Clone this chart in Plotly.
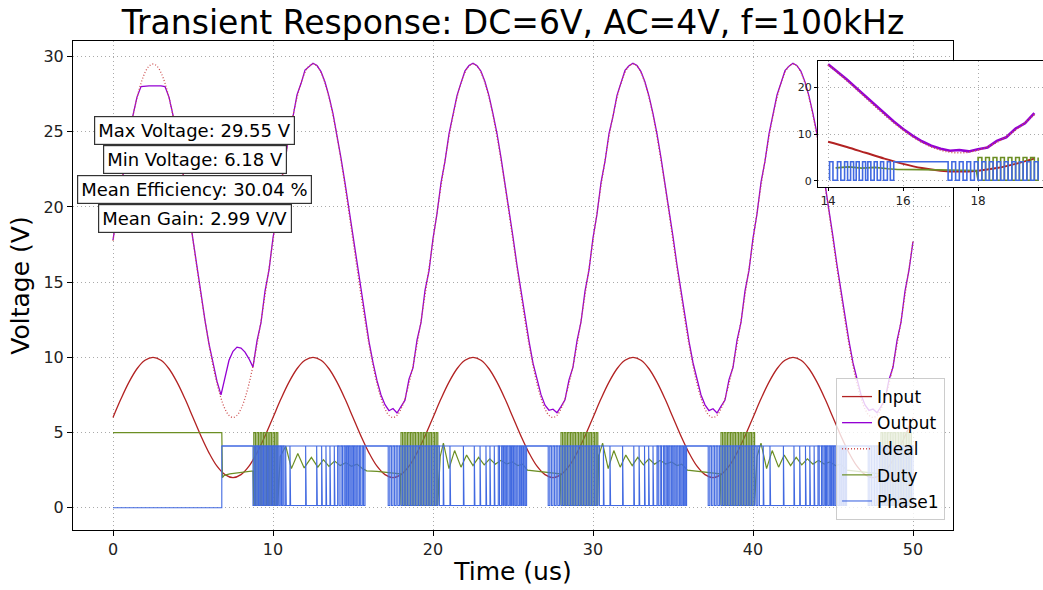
import plotly.graph_objects as go

# ---------------- data ----------------
input_t = [round(0.5 * i, 2) for i in range(101)]
input_v = [6.00, 7.24, 8.35, 9.24, 9.80, 10.00, 9.80, 9.24, 8.35, 7.24, 6.00, 4.76, 3.65, 2.76, 2.20, 2.00, 2.20, 2.76, 3.65, 4.76,
           6.00, 7.24, 8.35, 9.24, 9.80, 10.00, 9.80, 9.24, 8.35, 7.24, 6.00, 4.76, 3.65, 2.76, 2.20, 2.00, 2.20, 2.76, 3.65, 4.76,
           6.00, 7.24, 8.35, 9.24, 9.80, 10.00, 9.80, 9.24, 8.35, 7.24, 6.00, 4.76, 3.65, 2.76, 2.20, 2.00, 2.20, 2.76, 3.65, 4.76,
           6.00, 7.24, 8.35, 9.24, 9.80, 10.00, 9.80, 9.24, 8.35, 7.24, 6.00, 4.76, 3.65, 2.76, 2.20, 2.00, 2.20, 2.76, 3.65, 4.76,
           6.00, 7.24, 8.35, 9.24, 9.80, 10.00, 9.80, 9.24, 8.35, 7.24, 6.00, 4.76, 3.65, 2.76, 2.20, 2.00, 2.20, 2.76, 3.65, 4.76,
           6.00]

fine_t = [round(0.25 * i, 2) for i in range(201)]
ideal_v = [17.75, 19.59, 21.38, 23.08, 24.66, 26.06, 27.26, 28.22, 28.93, 29.36, 29.50, 29.36, 28.93, 28.22, 27.26, 26.06, 24.66, 23.08, 21.38, 19.59,
           17.75, 15.91, 14.12, 12.42, 10.84, 9.44, 8.24, 7.28, 6.57, 6.14, 6.00, 6.14, 6.57, 7.28, 8.24, 9.44, 10.84, 12.42, 14.12, 15.91,
           17.75, 19.59, 21.38, 23.08, 24.66, 26.06, 27.26, 28.22, 28.93, 29.36, 29.50, 29.36, 28.93, 28.22, 27.26, 26.06, 24.66, 23.08, 21.38, 19.59,
           17.75, 15.91, 14.12, 12.42, 10.84, 9.44, 8.24, 7.28, 6.57, 6.14, 6.00, 6.14, 6.57, 7.28, 8.24, 9.44, 10.84, 12.42, 14.12, 15.91,
           17.75, 19.59, 21.38, 23.08, 24.66, 26.06, 27.26, 28.22, 28.93, 29.36, 29.50, 29.36, 28.93, 28.22, 27.26, 26.06, 24.66, 23.08, 21.38, 19.59,
           17.75, 15.91, 14.12, 12.42, 10.84, 9.44, 8.24, 7.28, 6.57, 6.14, 6.00, 6.14, 6.57, 7.28, 8.24, 9.44, 10.84, 12.42, 14.12, 15.91,
           17.75, 19.59, 21.38, 23.08, 24.66, 26.06, 27.26, 28.22, 28.93, 29.36, 29.50, 29.36, 28.93, 28.22, 27.26, 26.06, 24.66, 23.08, 21.38, 19.59,
           17.75, 15.91, 14.12, 12.42, 10.84, 9.44, 8.24, 7.28, 6.57, 6.14, 6.00, 6.14, 6.57, 7.28, 8.24, 9.44, 10.84, 12.42, 14.12, 15.91,
           17.75, 19.59, 21.38, 23.08, 24.66, 26.06, 27.26, 28.22, 28.93, 29.36, 29.50, 29.36, 28.93, 28.22, 27.26, 26.06, 24.66, 23.08, 21.38, 19.59,
           17.75, 15.91, 14.12, 12.42, 10.84, 9.44, 8.24, 7.28, 6.57, 6.14, 6.00, 6.14, 6.57, 7.28, 8.24, 9.44, 10.84, 12.42, 14.12, 15.91,
           17.75]

output_v = [17.80, 19.60, 21.40, 23.10, 24.70, 26.10, 27.30, 28.00, 28.05, 28.05, 28.05, 28.05, 28.05, 28.00, 27.30, 26.10, 24.70, 23.10, 21.40, 19.60,
            17.80, 15.95, 14.15, 12.45, 10.90, 9.55, 8.40, 7.50, 8.75, 9.80, 10.40, 10.68, 10.62, 10.35, 9.90, 9.35, 11.10, 12.30, 14.40, 15.80,
            17.95, 19.50, 21.65, 23.00, 24.90, 26.00, 27.45, 28.20, 29.10, 29.35, 29.55, 29.40, 29.00, 28.30, 27.35, 26.20, 24.85, 23.25, 21.60, 19.80,
            18.00, 16.15, 14.35, 12.65, 11.05, 9.65, 8.45, 7.50, 6.85, 6.45, 6.60, 6.30, 6.75, 7.15, 8.55, 9.30, 11.15, 12.30, 14.45, 15.75,
            17.90, 19.55, 21.60, 23.05, 24.85, 26.05, 27.40, 28.25, 29.05, 29.40, 29.55, 29.38, 29.02, 28.32, 27.38, 26.18, 24.88, 23.28, 21.62, 19.82,
            18.00, 16.12, 14.38, 12.62, 11.08, 9.62, 8.48, 7.52, 6.82, 6.48, 6.55, 6.32, 6.72, 7.18, 8.50, 9.35, 11.10, 12.35, 14.40, 15.80,
            17.95, 19.52, 21.62, 23.02, 24.88, 26.02, 27.42, 28.22, 29.08, 29.38, 29.55, 29.40, 29.00, 28.30, 27.36, 26.20, 24.86, 23.26, 21.60, 19.80,
            18.02, 16.14, 14.36, 12.64, 11.06, 9.64, 8.46, 7.50, 6.84, 6.46, 6.58, 6.30, 6.74, 7.16, 8.52, 9.32, 11.12, 12.32, 14.42, 15.78,
            17.92, 19.54, 21.64, 23.04, 24.86, 26.04, 27.44, 28.24, 29.06, 29.36, 29.55, 29.39, 29.01, 28.31, 27.37, 26.19, 24.87, 23.27, 21.61, 19.81,
            18.01, 16.13, 14.37, 12.63, 11.07, 9.63, 8.47, 7.51, 6.83, 6.47, 6.56, 6.31, 6.73, 7.17, 8.51, 9.34, 11.11, 12.33, 14.41, 15.79,
            17.70]

# Duty: smooth part (time, value) plus switching bursts (pulse on/off times)
duty_base_t = [0.0, 6.80, 6.84, 6.95, 7.30, 7.80, 8.30, 8.75,
               10.45, 10.80, 11.15, 11.55, 11.95, 12.40, 12.80, 13.15, 13.50, 13.85, 14.20, 14.55, 14.90, 15.25, 15.60, 15.85, 16.50, 17.20, 17.60, 17.95,
               20.45, 20.65, 21.00, 21.35, 21.75, 22.10, 22.50, 22.85, 23.20, 23.55, 23.90, 24.25, 24.60, 24.95, 25.30, 25.60, 25.90, 26.50, 27.20, 27.60, 27.95,
               30.35, 30.60, 30.95, 31.30, 31.70, 32.05, 32.45, 32.80, 33.15, 33.50, 33.85, 34.20, 34.55, 34.90, 35.25, 35.55, 35.90, 36.50, 37.20, 37.60, 37.95,
               40.25, 40.50, 40.85, 41.20, 41.60, 41.95, 42.35, 42.70, 43.05, 43.40, 43.75, 44.10, 44.45, 44.80, 45.15, 45.50, 45.85, 46.50, 47.20, 47.60, 47.95]
duty_base_v = [5.0, 5.0, 2.0, 2.15, 2.25, 2.32, 2.38, 2.45,
               3.4, 4.1, 2.6, 3.6, 2.65, 3.35, 2.7, 3.2, 2.75, 3.1, 2.8, 3.0, 2.75, 2.9, 2.6, 2.45, 2.42, 2.35, 2.3, 2.25,
               3.4, 4.3, 2.6, 3.8, 2.7, 3.5, 2.8, 3.35, 2.85, 3.25, 2.9, 3.15, 2.9, 3.05, 2.8, 2.9, 2.5, 2.42, 2.35, 2.3, 2.25,
               3.4, 4.3, 2.6, 3.8, 2.7, 3.5, 2.8, 3.35, 2.85, 3.25, 2.9, 3.15, 2.9, 3.05, 2.8, 2.9, 2.5, 2.42, 2.35, 2.3, 2.25,
               3.4, 4.3, 2.6, 3.8, 2.7, 3.5, 2.8, 3.35, 2.85, 3.25, 2.9, 3.15, 2.9, 3.05, 2.8, 2.9, 2.5, 2.42, 2.35, 2.3, 2.25]
duty_on = [8.80, 9.00, 9.20, 9.40, 9.60, 9.80, 10.00, 10.20,
           18.00, 18.20, 18.40, 18.60, 18.80, 19.00, 19.20, 19.40, 19.60, 19.80, 20.00, 20.20,
           28.00, 28.20, 28.40, 28.60, 28.80, 29.00, 29.20, 29.40, 29.60, 29.80, 30.00, 30.20,
           38.00, 38.20, 38.40, 38.60, 38.80, 39.00, 39.20, 39.40, 39.60, 39.80, 40.00,
           48.00, 48.20, 48.40, 48.60, 48.80, 49.00, 49.20, 49.40, 49.60, 49.80]
duty_off = [8.90, 9.10, 9.30, 9.50, 9.70, 9.90, 10.10, 10.30,
            18.10, 18.30, 18.50, 18.70, 18.90, 19.10, 19.30, 19.50, 19.70, 19.90, 20.10, 20.30,
            28.10, 28.30, 28.50, 28.70, 28.90, 29.10, 29.30, 29.50, 29.70, 29.90, 30.10, 30.30,
            38.10, 38.30, 38.50, 38.70, 38.90, 39.10, 39.30, 39.50, 39.70, 39.90, 40.10,
            48.10, 48.30, 48.50, 48.70, 48.90, 49.10, 49.30, 49.50, 49.70, 49.90]
duty_high = 5.0
duty_low = 0.15

# Phase1: high pulses (on/off times), low before 6.8 us
phase1_on = [6.80,
             8.85, 9.01, 9.17, 9.33, 9.49, 9.65, 9.81, 9.97, 10.13, 10.29, 10.45, 10.61,
             10.79, 11.06, 12.04, 12.73, 13.04, 13.31, 13.56, 13.83,
             14.04, 14.25, 14.44, 14.60, 14.75, 14.92, 15.06, 15.23, 15.40, 15.58,
             15.75,
             17.30, 17.50, 17.70, 17.90, 18.10, 18.30, 18.50, 18.70, 18.90, 19.10, 19.30, 19.50, 19.70, 19.90, 20.10, 20.30,
             20.64, 21.06, 21.90, 22.58, 22.94, 23.31, 23.56, 23.83,
             24.08, 24.29, 24.44, 24.60, 24.77, 24.92, 25.06, 25.23, 25.40, 25.54, 25.69,
             25.85,
             27.30, 27.50, 27.70, 27.90, 28.10, 28.30, 28.50, 28.70, 28.90, 29.10, 29.30, 29.50, 29.70, 29.90, 30.10, 30.30,
             30.65, 31.06, 31.85, 32.55, 32.88, 33.22, 33.48, 33.75,
             34.00, 34.20, 34.40, 34.57, 34.73, 34.90, 35.06, 35.23, 35.40, 35.56, 35.71,
             35.85,
             37.30, 37.50, 37.70, 37.90, 38.10, 38.30, 38.50, 38.70, 38.90, 39.10, 39.30, 39.50, 39.70, 39.90, 40.10, 40.30,
             40.64, 41.06, 41.90, 42.56, 42.92, 43.28, 43.55, 43.82,
             44.06, 44.28, 44.45, 44.60, 44.77, 44.92, 45.06, 45.23, 45.40, 45.55, 45.70,
             45.85,
             47.30, 47.50, 47.70, 47.90, 48.10, 48.30, 48.50, 48.70, 48.90, 49.10, 49.30, 49.50, 49.70, 49.90]
phase1_off = [8.75,
              8.93, 9.09, 9.25, 9.41, 9.57, 9.73, 9.89, 10.05, 10.21, 10.37, 10.53, 10.69,
              10.83, 11.10, 12.08, 12.77, 13.08, 13.35, 13.60, 13.87,
              14.13, 14.34, 14.52, 14.68, 14.83, 15.00, 15.14, 15.31, 15.48, 15.66,
              17.20,
              17.40, 17.60, 17.80, 18.00, 18.20, 18.40, 18.60, 18.80, 19.00, 19.20, 19.40, 19.60, 19.80, 20.00, 20.20, 20.40,
              20.68, 21.10, 21.94, 22.62, 22.98, 23.35, 23.60, 23.87,
              24.16, 24.37, 24.52, 24.68, 24.85, 25.00, 25.14, 25.31, 25.48, 25.62, 25.77,
              27.20,
              27.40, 27.60, 27.80, 28.00, 28.20, 28.40, 28.60, 28.80, 29.00, 29.20, 29.40, 29.60, 29.80, 30.00, 30.20, 30.40,
              30.69, 31.10, 31.89, 32.59, 32.92, 33.26, 33.52, 33.79,
              34.08, 34.28, 34.48, 34.65, 34.81, 34.98, 35.14, 35.31, 35.48, 35.64, 35.79,
              37.20,
              37.40, 37.60, 37.80, 38.00, 38.20, 38.40, 38.60, 38.80, 39.00, 39.20, 39.40, 39.60, 39.80, 40.00, 40.20, 40.40,
              40.68, 41.10, 41.94, 42.60, 42.96, 43.32, 43.59, 43.86,
              44.14, 44.36, 44.53, 44.68, 44.85, 45.00, 45.14, 45.31, 45.48, 45.63, 45.78,
              47.20,
              47.40, 47.60, 47.80, 48.00, 48.20, 48.40, 48.60, 48.80, 49.00, 49.20, 49.40, 49.60, 49.80, 50.00]
phase1_high = 4.1
phase1_low = 0.15
phase1_start = 0.0
phase1_end_t = 50.0

# time window shown in the zoomed inset
inset_window = [14.0, 19.6]

stats_text = ["Max Voltage: 29.55 V", "Min Voltage: 6.18 V", "Mean Efficiency: 30.04 %", "Mean Gain: 2.99 V/V"]
stats_y = [25.07, 23.13, 21.13, 19.2]
stats_x = 5.1

# ---------------- build switching traces ----------------
pts = [(t, v, 0) for t, v in zip(duty_base_t, duty_base_v)]
for a, b in zip(duty_on, duty_off):
    pts += [(a, duty_low, 1), (a, duty_high, 2), (b, duty_high, 3), (b, duty_low, 4)]
pts.sort(key=lambda p: (p[0], p[2]))
duty_t = [p[0] for p in pts]
duty_v = [p[1] for p in pts]

ph_t = [0.0, phase1_on[0]]
ph_v = [phase1_start, phase1_start]
for a, b in zip(phase1_on, phase1_off):
    ph_t += [a, a, b, b]
    ph_v += [phase1_low, phase1_high, phase1_high, phase1_low]
ph_main_t = ph_t + [phase1_end_t, None, phase1_on[0], phase1_end_t]
ph_main_v = ph_v + [phase1_low, None, phase1_high, phase1_high]
ph_t = ph_t + [phase1_end_t]
ph_v = ph_v + [phase1_low]


def window(ts, vs):
    lo, hi = inset_window
    keep = [(t, v) for t, v in zip(ts, vs) if t is not None and lo <= t <= hi]
    return [k[0] for k in keep], [k[1] for k in keep]


C_IN = "#b22222"
C_OUT = "#9400d3"
C_IDEAL = "#cd4f4f"
C_DUTY = "#6b8e23"
C_PH = "#4169e1"

fig = go.Figure()

series = [
    ("Input", input_t, input_v, C_IN, 1.3, 2.0, None, "spline"),
    ("Output", fine_t, output_v, C_OUT, 1.3, 2.6, None, "linear"),
    ("Ideal", fine_t, ideal_v, C_IDEAL, 1.3, 1.6, "1px,2px", "spline"),
    ("Duty", duty_t, duty_v, C_DUTY, 1.2, 1.6, None, "linear"),
]
for name, ts, vs, col, wm, wi, dash, shape in series:
    fig.add_trace(go.Scatter(x=ts, y=vs, mode="lines", name=name, legendgroup=name,
                             line=dict(color=col, width=wm, dash=dash, shape=shape)))
fig.add_trace(go.Scatter(x=ph_main_t, y=ph_main_v, mode="lines", name="Phase1", legendgroup="Phase1",
                         line=dict(color=C_PH, width=1.1)))

for name, ts, vs, col, wm, wi, dash, shape in series:
    wt, wv = window(ts, vs)
    fig.add_trace(go.Scatter(x=wt, y=wv, mode="lines", name=name, showlegend=False, xaxis="x2", yaxis="y2",
                             line=dict(color=col, width=wi, dash=dash, shape=shape)))
wt, wv = window(ph_t, ph_v)
fig.add_trace(go.Scatter(x=wt, y=wv, mode="lines", name="Phase1", showlegend=False, xaxis="x2", yaxis="y2",
                         line=dict(color=C_PH, width=1.6)))

grid = dict(showgrid=True, gridcolor="#aaaaaa", griddash="1px,3px", gridwidth=1, zeroline=False, automargin=False,
            showline=True, linecolor="black", linewidth=1, ticks="outside", tickcolor="black")

fig.update_layout(
    width=1043, height=590,
    margin=dict(l=73, r=0, t=41, b=60, autoexpand=False),
    paper_bgcolor="white", plot_bgcolor="white",
    font=dict(family="DejaVu Sans", color="#222222"),
    title=dict(text="Transient Response: DC=6V, AC=4V, f=100kHz", x=0.4536, xref="paper", xanchor="center",
               y=1 - 22 / 590, yref="container", yanchor="middle", font=dict(size=33, color="black")),
    xaxis=dict(domain=[0, 0.90722], range=[-2.5, 52.5], tickvals=[0, 10, 20, 30, 40, 50], mirror=True, ticklen=5,
               tickfont=dict(size=16), title=dict(text="Time (us)", font=dict(size=25, color="black"), standoff=4), **grid),
    yaxis=dict(domain=[0, 1], range=[-1.48, 31.03], tickvals=[0, 5, 10, 15, 20, 25, 30], mirror=True, ticklen=5,
               tickfont=dict(size=16), title=dict(text="Voltage (V)", font=dict(size=25, color="black"), standoff=6), **grid),
    xaxis2=dict(domain=[0.768, 1.0], anchor="y2", range=[13.73, 19.73], tickvals=[14, 16, 18], mirror=True, ticklen=3,
                tickfont=dict(size=12), **grid),
    yaxis2=dict(domain=[0.7014, 0.959], anchor="x2", range=[-1.28, 25.53], tickvals=[0, 10, 20], mirror=False, ticklen=3,
                tickfont=dict(size=11), **grid),
    legend=dict(x=0.899, xanchor="right", y=0.0204, yanchor="bottom", bgcolor="rgba(255,255,255,0.8)",
                bordercolor="#cccccc", borderwidth=1, font=dict(size=17, color="black"),
                traceorder="grouped", tracegroupgap=1),
)

for txt, yy in zip(stats_text, stats_y):
    fig.add_annotation(x=stats_x, y=yy, xref="x", yref="y", text=txt, showarrow=False,
                       font=dict(size=18, color="black"), bgcolor="white", bordercolor="#333333",
                       borderwidth=1.2, borderpad=3)

fig.write_html("out.html", config={"displayModeBar": False},
               post_script="document.body.style.margin='0';document.body.style.overflow='hidden';")
